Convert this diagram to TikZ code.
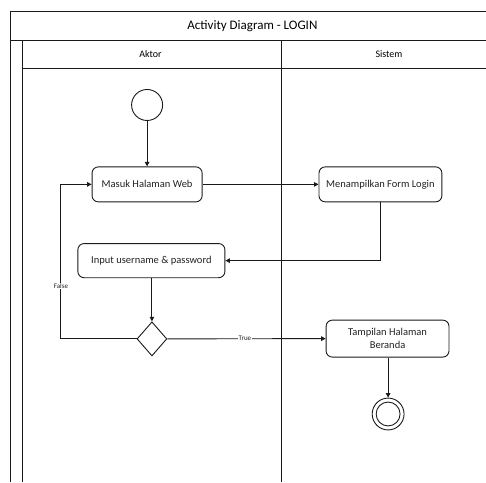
\documentclass[tikz,border=0pt]{standalone}
\usepackage{fontspec}
\setmainfont{Carlito}
\usetikzlibrary{arrows.meta,shapes.geometric}
\definecolor{ADLine}{HTML}{1A1A1A}
\definecolor{ADText}{HTML}{222222}

\begin{document}
\begin{tikzpicture}[x=1cm,y=1cm,
  act/.style={draw=ADLine,line width=.9pt,rounded corners=.22cm,minimum height=1.23cm,align=center,font=\fontsize{10.5}{12.5}\selectfont,text=ADText},
  flow/.style={draw=ADLine,line width=.9pt,-{Triangle[length=4.5pt,width=4.5pt]}},
  lane/.style={draw=ADLine,line width=.9pt},
  guard/.style={font=\fontsize{7}{8}\selectfont,text=ADText,fill=white,inner sep=.5pt}]
\path[use as bounding box] (0,0) rectangle (17.08,16.94);
\fill[white] (0,0) rectangle (17.08,16.94);
% frame and swimlanes
\draw[lane] (0.35,0) -- (0.35,16.52) -- (17.08,16.52);
\draw[lane] (0.35,15.53) -- (17.08,15.53);
\draw[lane] (0.79,0) -- (0.79,15.53);
\draw[lane] (0.79,14.52) -- (17.08,14.52);
\draw[lane] (9.88,0) -- (9.88,15.53);
\node (judul) at (8.87,16.03) {\fontsize{13}{15}\selectfont Activity Diagram - LOGIN};
\node (aktor) at (5.29,15.04) {\fontsize{10}{12}\selectfont Aktor};
\node (sistem) at (13.67,15.04) {\fontsize{10}{12}\selectfont Sistem};
% nodes
\node[draw=ADLine,line width=.9pt,circle,minimum size=1.09cm,inner sep=0pt] (start) at (5.17,13.25) {};
\node[act,minimum width=3.87cm] (masuk) at (5.17,10.46) {Masuk Halaman Web};
\node[act,minimum width=4.32cm] (form) at (13.37,10.46) {Menampilkan Form Login};
\node[act,minimum width=5.17cm,minimum height=1.2cm] (input) at (5.32,7.78) {Input username \& password};
\node[draw=ADLine,line width=.9pt,diamond,minimum width=1.05cm,minimum height=1.2cm,inner sep=0pt] (cek) at (5.34,5.03) {};
\node[act,minimum width=4.32cm,minimum height=1.3cm] (beranda) at (13.62,5.04) {Tampilan Halaman\\Beranda};
\node[draw=ADLine,line width=.9pt,circle,minimum size=1.12cm,inner sep=0pt] (selesai) at (13.64,2.39) {};
\node[draw=ADLine,line width=.9pt,circle,minimum size=.84cm,inner sep=0pt] at (selesai) {};
% flows
\draw[flow] (start) -- (masuk);
\draw[flow] (masuk) -- (form);
\draw[flow] (form.south) |- (input.east);
\draw[flow] (input.south -| cek.north) -- (cek.north);
\coordinate (balik) at (2.14,5.03);
\draw[flow] (cek.west) -- (balik) |- (masuk.west);
\node[guard] at (2.14,6.89) {False};
\draw[flow] (cek.east) -- node[guard,pos=.49] {True} (beranda.west);
\draw[flow] (beranda.south -| selesai.north) -- (selesai.north);
\end{tikzpicture}
\end{document}
